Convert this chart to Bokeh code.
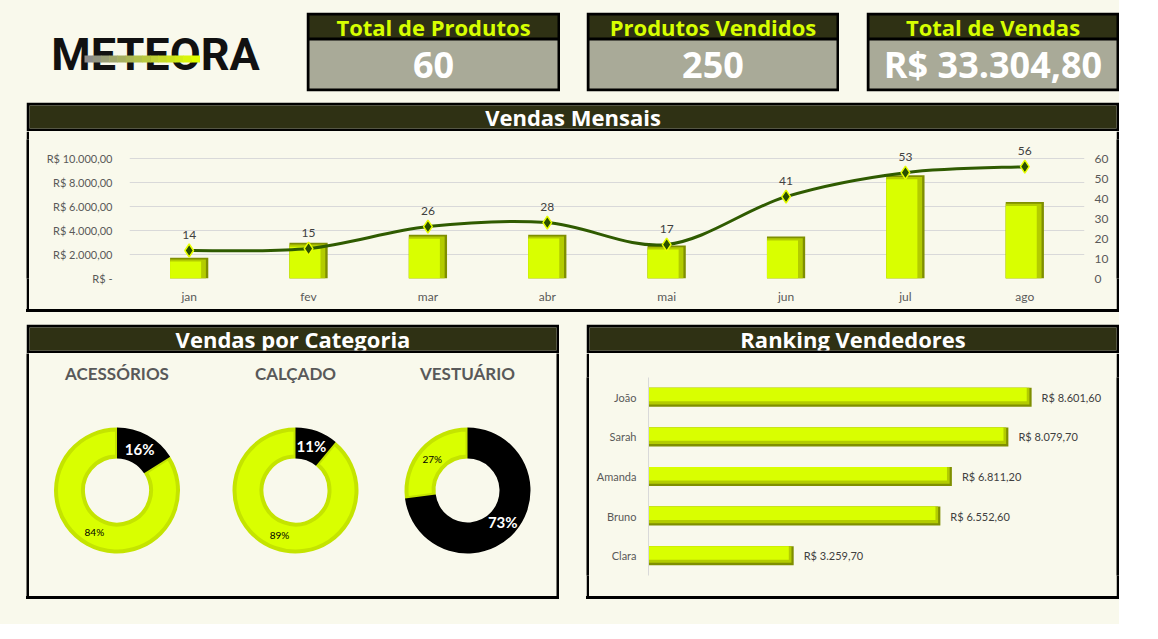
import math
from bokeh.plotting import figure
from bokeh.models import Range1d, FactorRange, LinearAxis, FixedTicker, ColumnDataSource, Spacer
from bokeh.layouts import row, column
from bokeh.transform import dodge
from bokeh.core.properties import value
from bokeh.embed import file_html
from bokeh.resources import INLINE

# ---------------- data ----------------
kpi_titles = ["Total de Produtos", "Produtos Vendidos", "Total de Vendas"]
kpi_values = ["60", "250", "R$ 33.304,80"]

months = ["jan", "fev", "mar", "abr", "mai", "jun", "jul", "ago"]
monthly_sales = [1740, 2980, 3650, 3660, 2760, 3500, 8620, 6390]
monthly_units = [14, 15, 26, 28, 17, 41, 53, 56]
sales_ticks = [0, 2000, 4000, 6000, 8000, 10000]
sales_tick_labels = ["R$ -", "R$ 2.000,00", "R$ 4.000,00", "R$ 6.000,00", "R$ 8.000,00", "R$ 10.000,00"]
units_ticks = [0, 10, 20, 30, 40, 50, 60]

categories = ["ACESSÓRIOS", "CALÇADO", "VESTUÁRIO"]
share_dark = [16, 11, 73]
share_light = [84, 89, 27]

sellers = ["João", "Sarah", "Amanda", "Bruno", "Clara"]
seller_sales = [8601.60, 8079.70, 6811.20, 6552.60, 3259.70]

# ---------------- styles ----------------
CREAM = "#f9f9ec"
DARK = "#2f3114"
GREY = "#a9aa98"
KPI_YELLOW = "#d7ff00"
YELLOW = "#d9ff00"
MID = "#b3cc00"
OLIVE = "#7f8f00"
YBORDER = "#c4e400"
LINE = "#2f5b00"
TXT = "#595959"
HEAD_FONT = "Open Sans"
XL_FONT = "Lato"
PAD = 7


def brl(v):
    s = f"{v:,.2f}"
    return "R$ " + s.replace(",", "X").replace(".", ",").replace("X", ".")


def blank(w, h, xr, yr, bg=CREAM, border=None, **kw):
    p = figure(width=w, height=h, x_range=xr, y_range=yr, toolbar_location=None,
               output_backend="svg", x_axis_location=None, y_axis_location=None,
               background_fill_color=bg, border_fill_color=border or bg,
               outline_line_color=None, min_border=0, **kw)
    p.grid.visible = False
    return p


def vbar_solid(h):
    return blank(3, h, Range1d(0, 1), Range1d(0, 1), bg="black")


def hbar_solid(w):
    return Spacer(width=w, height=3, styles={"background-color": "black"})


def header(w, title):
    p = blank(w, 29, Range1d(0, 1), Range1d(0, 1), bg=DARK, border="black",
              min_border_left=3, min_border_right=3, min_border_top=3, min_border_bottom=3)
    p.text(x=[0.5], y=[0.5], text=[title], text_align="center", text_baseline="middle",
           text_color="white", text_font=value(HEAD_FONT), text_font_style="bold",
           text_font_size="22px")
    return p


def panel(w, h, title, content):
    ih = h - 29 - 3
    return column(header(w, title), row(vbar_solid(ih), content, vbar_solid(ih)), hbar_solid(w))


def style_axis(ax, size="12px"):
    ax.axis_line_color = None
    ax.major_tick_line_color = None
    ax.minor_tick_line_color = None
    ax.major_tick_out = 0
    ax.major_tick_in = 0
    ax.minor_tick_out = 0
    ax.major_label_text_color = TXT
    ax.major_label_text_font = XL_FONT
    ax.major_label_text_font_size = size


# ---------------- logo ----------------
logo = blank(292, 95, Range1d(0, 292), Range1d(95, 0))
logo.text(x=[148], y=[51], text=["METEORA"], text_align="center", text_baseline="alphabetic",
          text_font=value("Roboto"), text_font_style="bold", text_font_size="45px",
          text_color="#111111")
n_seg = 14
gx0, gx1, gy = 77, 192, 56
seg_w = (gx1 - gx0) / n_seg
grad_colors = []
for i in range(n_seg):
    t = i / (n_seg - 1)
    r = int(140 + (224 - 140) * t)
    g = int(140 + (255 - 140) * t)
    b = int(140 * (1 - t))
    grad_colors.append(f"#{r:02x}{g:02x}{b:02x}")
logo.segment(x0=[gx0 + i * seg_w for i in range(n_seg)], y0=[gy] * n_seg,
             x1=[gx0 + (i + 1) * seg_w + 0.5 for i in range(n_seg)], y1=[gy] * n_seg,
             line_color=grad_colors, line_width=7)

# ---------------- KPI cards ----------------
card_widths = [254, 253, 253]


def card(w, title, val):
    p = blank(w, 95, Range1d(0, w), Range1d(0, 79), min_border_top=5, min_border_bottom=11)
    p.quad(left=[0], right=[w], bottom=[0], top=[79], fill_color="black", line_color=None)
    p.quad(left=[3], right=[w - 3], bottom=[3], top=[51], fill_color=GREY, line_color=None)
    p.quad(left=[3], right=[w - 3], bottom=[54], top=[76], fill_color=DARK, line_color=None)
    p.text(x=[w / 2], y=[65], text=[title], text_align="center", text_baseline="middle",
           text_color=KPI_YELLOW, text_font=value(HEAD_FONT), text_font_style="bold",
           text_font_size="22px")
    p.text(x=[w / 2], y=[27], text=[val], text_align="center", text_baseline="middle",
           text_color="white", text_font=value(HEAD_FONT), text_font_style="bold",
           text_font_size="36px")
    return p


cards = [card(card_widths[i], kpi_titles[i], kpi_values[i]) for i in range(3)]

# ---------------- monthly chart ----------------
mx = list(range(len(months)))
msrc = ColumnDataSource(dict(
    x=mx, sales=monthly_sales, units=monthly_units,
    mid_top=[v - 150 for v in monthly_sales], in_top=[v - 330 for v in monthly_sales],
    lbl=[str(u) for u in monthly_units]))

pm = figure(width=1087, height=178, x_range=Range1d(-0.5, len(months) - 0.5),
            y_range=Range1d(0, 11600), toolbar_location=None, output_backend="svg",
            background_fill_color=CREAM, border_fill_color=CREAM, outline_line_color=None,
            min_border_left=100, min_border_right=32, min_border_top=8, min_border_bottom=31)
pm.extra_y_ranges = {"units": Range1d(0, 69.6)}

pm.xaxis.ticker = FixedTicker(ticks=mx)
pm.xaxis.major_label_overrides = {i: m for i, m in enumerate(months)}
style_axis(pm.xaxis[0], "12px")
pm.xaxis.major_label_standoff = 10

pm.yaxis.ticker = FixedTicker(ticks=sales_ticks)
pm.yaxis.major_label_overrides = dict(zip(sales_ticks, sales_tick_labels))
style_axis(pm.yaxis[0], "11px")
pm.yaxis.major_label_standoff = 17

ra = LinearAxis(y_range_name="units", ticker=FixedTicker(ticks=units_ticks))
style_axis(ra, "12px")
ra.major_label_standoff = 10
pm.add_layout(ra, "right")

pm.xgrid.visible = False
pm.ygrid.ticker = FixedTicker(ticks=sales_ticks)
pm.ygrid.grid_line_color = "#d9d9d9"

pm.vbar(x="x", top="sales", width=0.32, source=msrc, fill_color=OLIVE, line_color=None)
pm.vbar(x=dodge("x", -0.01), top="mid_top", width=0.30, source=msrc, fill_color=MID, line_color=None)
pm.vbar(x=dodge("x", -0.03), top="in_top", width=0.26, source=msrc, fill_color=YELLOW, line_color=None)

# smoothed line (Catmull-Rom -> Bezier control points)
pts = list(zip(mx, monthly_units))
bz = dict(x0=[], y0=[], x1=[], y1=[], cx0=[], cy0=[], cx1=[], cy1=[])
n = len(pts)
for i in range(n - 1):
    p0 = pts[max(i - 1, 0)]
    p1 = pts[i]
    p2 = pts[i + 1]
    p3 = pts[min(i + 2, n - 1)]
    bz["x0"].append(p1[0]); bz["y0"].append(p1[1])
    bz["x1"].append(p2[0]); bz["y1"].append(p2[1])
    bz["cx0"].append(p1[0] + (p2[0] - p0[0]) / 6); bz["cy0"].append(p1[1] + (p2[1] - p0[1]) / 6)
    bz["cx1"].append(p2[0] - (p3[0] - p1[0]) / 6); bz["cy1"].append(p2[1] - (p3[1] - p1[1]) / 6)
pm.bezier(x0="x0", y0="y0", x1="x1", y1="y1", cx0="cx0", cy0="cy0", cx1="cx1", cy1="cy1",
          source=ColumnDataSource(bz), y_range_name="units", line_color=LINE, line_width=3)
pm.scatter(x="x", y="units", source=msrc, y_range_name="units", marker="diamond", size=13,
           fill_color="#2a4f00", line_color="#e8ff00", line_width=1.5)
pm.text(x="x", y="units", text="lbl", source=msrc, y_range_name="units", y_offset=-16,
        text_align="center", text_baseline="middle", text_color="#404040",
        text_font=value(XL_FONT), text_font_size="12px")

panel1 = panel(1093, 210, "Vendas Mensais", pm)

# ---------------- donuts ----------------
donut_widths = [175, 182, 162]
R_OUT, R_IN, R_LBL = 63, 32, 47
donut_figs = []
for i, cat in enumerate(categories):
    w = donut_widths[i]
    pd_ = blank(w, 243, Range1d(-w / 2, w / 2), Range1d(-106, 137))
    tot = share_dark[i] + share_light[i]
    fd = share_dark[i] / tot
    top = math.pi / 2
    mid = top - 2 * math.pi * fd
    pd_.annular_wedge(x=[0], y=[0], inner_radius=R_IN + 2, outer_radius=R_OUT - 2,
                      start_angle=[mid], end_angle=[top], direction="clock",
                      fill_color=YELLOW, line_color=YBORDER, line_width=4)
    pd_.annular_wedge(x=[0], y=[0], inner_radius=R_IN, outer_radius=R_OUT,
                      start_angle=[top], end_angle=[mid], direction="clock",
                      fill_color="black", line_color=None)
    th_d = math.pi * fd
    th_l = math.pi * (1 + fd)
    pd_.text(x=[R_LBL * math.sin(th_d)], y=[R_LBL * math.cos(th_d)], text=[f"{share_dark[i]}%"],
             text_align="center", text_baseline="middle", text_color="white",
             text_font=value(XL_FONT), text_font_style="bold", text_font_size="15px")
    pd_.text(x=[R_LBL * math.sin(th_l)], y=[R_LBL * math.cos(th_l)], text=[f"{share_light[i]}%"],
             text_align="center", text_baseline="middle", text_color="black",
             text_font=value(XL_FONT), text_font_size="10px")
    pd_.text(x=[0], y=[117], text=[cat], text_align="center", text_baseline="middle",
             text_color=TXT, text_font=value(XL_FONT), text_font_style="bold",
             text_font_size="17px")
    donut_figs.append(pd_)

cat_content = row(*donut_figs, Spacer(width=527 - sum(donut_widths), height=243))
panel2 = panel(533, 275, "Vendas por Categoria", cat_content)

# ---------------- ranking ----------------
rsrc = ColumnDataSource(dict(
    name=sellers, sales=seller_sales,
    mid=[v - 50 for v in seller_sales], inner=[v - 110 for v in seller_sales],
    label=[brl(v) for v in seller_sales]))
pr = figure(width=527, height=243, y_range=FactorRange(factors=sellers[::-1]),
            x_range=Range1d(0, 10350), x_axis_location=None, toolbar_location=None,
            output_backend="svg", background_fill_color=CREAM, border_fill_color=CREAM,
            outline_line_color=None, min_border_left=59, min_border_right=7,
            min_border_top=24, min_border_bottom=21)
pr.grid.visible = False
style_axis(pr.yaxis[0], "11px")
pr.yaxis.axis_line_color = "#d9d9d9"
pr.yaxis.major_label_standoff = 12
pr.hbar(y="name", right="sales", height=0.48, source=rsrc, fill_color=OLIVE, line_color=None)
pr.hbar(y=dodge("name", 0.03, range=pr.y_range), right="mid", height=0.42, source=rsrc,
        fill_color=MID, line_color=None)
pr.hbar(y=dodge("name", 0.07, range=pr.y_range), right="inner", height=0.34, source=rsrc,
        fill_color=YELLOW, line_color=None)
pr.text(x="sales", y="name", text="label", source=rsrc, x_offset=10, text_baseline="middle",
        text_color="#404040", text_font=value(XL_FONT), text_font_size="11px")

panel3 = panel(533, 275, "Ranking Vendedores", pr)

# ---------------- layout ----------------
TOTAL_W = PAD + 1112
row1 = row(Spacer(width=PAD, height=95), logo, Spacer(width=7, height=95), cards[0],
           Spacer(width=26, height=95), cards[1], Spacer(width=27, height=95), cards[2])
row2 = row(Spacer(width=PAD + 19, height=210), panel1)
row3 = row(Spacer(width=PAD + 19, height=275), panel2, Spacer(width=27, height=275), panel3)
layout = column(Spacer(width=TOTAL_W, height=PAD), row1, row2,
                Spacer(width=TOTAL_W, height=12), row3, Spacer(width=TOTAL_W, height=25),
                styles={"background-color": CREAM})

open("out.html", "w").write(file_html(layout, INLINE))
